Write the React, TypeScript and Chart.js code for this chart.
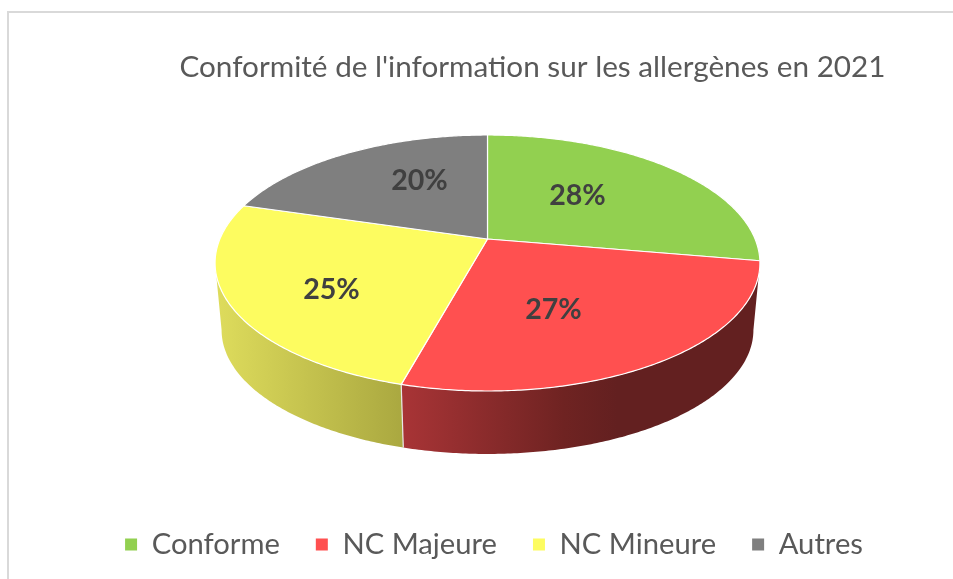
import React, { useEffect, useRef } from "react";
import { Chart, registerables } from "chart.js";

Chart.register(...registerables);

const titleText = "Conformité de l'information sur les allergènes en 2021";
const categories = ["Conforme", "NC Majeure", "NC Mineure", "Autres"];
const shares = [27.7, 26.5, 25.3, 20.4];
const displayed = ["28%", "27%", "25%", "20%"];
const sliceColors = ["#92D050", "#FF5050", "#FDFC60", "#7F7F7F"];
// Horizontal shading of the rim of each slice
const wallStops: [number, string][][] = [
  [[0, "#6b8f3a"], [1, "#6b8f3a"]],
  [[0, "#a83436"], [0.45, "#6f2322"], [0.6, "#632020"], [1, "#632020"]],
  [[0, "#dedc5c"], [1, "#aaa840"]],
  [[0, "#5a5a5a"], [1, "#5a5a5a"]],
];
const wallSpans: [number, number][] = [[487, 760], [403, 760], [216, 403], [216, 487]];

// Perspective projection of the disc
const k = -0.1875;
const top = { cx: 487.5, cy: 239, R: 267.6, S: 123.5 };
const bottom = { cx: 487.5, cy: 306.75, R: 261.2, S: 119.6 };
const labelNudges: [number, number][] = [[90, -43], [66, 71], [-156, 51], [-68, -58]];
// Rim is only visible between the two silhouette tangents
const rimFrom = Math.asin(-k);
const rimTo = Math.PI - rimFrom;

type Disc = typeof top;
const project = (d: Disc, angle: number, r = 1): [number, number] => {
  const u = Math.cos(angle) * r; // chart.js angles: 0 = east, -PI/2 = north
  const v = Math.sin(angle) * r;
  const w = 1 + k * v;
  return [d.cx + (d.R * u) / w, d.cy + (d.S * v) / w];
};

const arcPoints = (d: Disc, a0: number, a1: number) => {
  const n = Math.max(2, Math.ceil(Math.abs(a1 - a0) / 0.01));
  const pts: [number, number][] = [];
  for (let i = 0; i <= n; i++) pts.push(project(d, a0 + ((a1 - a0) * i) / n));
  return pts;
};

const discPlugin = {
  id: "perspectiveDisc",
  afterLayout(chart: any) {
    // Title and legend are offset from the canvas centre
    chart.titleBlock.left += 56;
    chart.titleBlock.right += 56;
    chart.legend.left += 17.5;
    chart.legend.right += 17.5;
  },
  beforeDraw(chart: any) {
    const c = chart.ctx;
    c.save();
    c.fillStyle = "#ffffff";
    c.fillRect(0, 0, chart.width, chart.height);
    c.fillStyle = "#d9d9d9";
    c.fillRect(7, 11, chart.width - 7, 2);
    c.fillRect(7, 11, 2, chart.height - 11);
    c.restore();
  },
  beforeDatasetsDraw(chart: any) {
    const c = chart.ctx;
    const arcs = chart.getDatasetMeta(0).data;
    c.save();
    c.lineJoin = "round";
    // Rim
    arcs.forEach((a: any, i: number) => {
      const from = Math.max(a.startAngle, rimFrom);
      const to = Math.min(a.endAngle, rimTo);
      if (to <= from) return;
      const upper = arcPoints(top, from, to);
      const lower = arcPoints(bottom, to, from);
      const [x0, x1] = wallSpans[i];
      const g = c.createLinearGradient(x0, 0, x1, 0);
      wallStops[i].forEach(([p, col]) => g.addColorStop(p, col));
      c.beginPath();
      [...upper, ...lower].forEach(([x, y], j) => (j ? c.lineTo(x, y) : c.moveTo(x, y)));
      c.closePath();
      c.fillStyle = g;
      c.fill();
    });
    // White seam between the yellow and red rim
    const seam = arcs[1].endAngle;
    const s0 = project(top, seam);
    const s1 = project(bottom, seam);
    c.strokeStyle = "#e8e8e8";
    c.lineWidth = 1.2;
    c.beginPath();
    c.moveTo(s0[0], s0[1]);
    c.lineTo(s1[0], s1[1]);
    c.stroke();
    // Top face
    arcs.forEach((a: any, i: number) => {
      const pts = arcPoints(top, a.startAngle, a.endAngle);
      c.beginPath();
      c.moveTo(top.cx, top.cy);
      pts.forEach(([x, y]) => c.lineTo(x, y));
      c.closePath();
      c.fillStyle = sliceColors[i];
      c.fill();
      c.strokeStyle = "#ffffff";
      c.lineWidth = 1.2;
      c.stroke();
    });
    // Percent labels
    c.font = "bold 28.6px Lato";
    c.fillStyle = "#404040";
    c.textAlign = "center";
    c.textBaseline = "middle";
    displayed.forEach((t, i) => {
      c.fillText(t, top.cx + labelNudges[i][0], top.cy + labelNudges[i][1]);
    });
    c.restore();
    return false;
  },
};

export default function App() {
  const ref = useRef<HTMLCanvasElement>(null);
  useEffect(() => {
    const chart = new Chart(ref.current as HTMLCanvasElement, {
      type: "pie",
      data: {
        labels: categories,
        datasets: [{ data: shares, backgroundColor: sliceColors, borderWidth: 0 }],
      },
      options: {
        responsive: false,
        animation: false,
        devicePixelRatio: 1,
        layout: { padding: { bottom: 10 } },
        plugins: {
          title: {
            display: true,
            text: titleText,
            color: "#595959",
            font: { family: "Lato", size: 29.7, weight: "normal" },
            padding: { top: 50, bottom: 0 },
          },
          legend: {
            position: "bottom",
            labels: {
              color: "#595959",
              font: { family: "Lato", size: 29.2 },
              boxWidth: 12,
              boxHeight: 12,
              padding: 36,
            },
          },
          tooltip: { enabled: false },
        },
      } as any,
      plugins: [discPlugin as any],
    });
    return () => chart.destroy();
  }, []);
  return (
    <canvas
      ref={ref}
      width={953}
      height={579}
      style={{ position: "absolute", left: 0, top: 0, width: 953, height: 579, display: "block" }}
    />
  );
}
